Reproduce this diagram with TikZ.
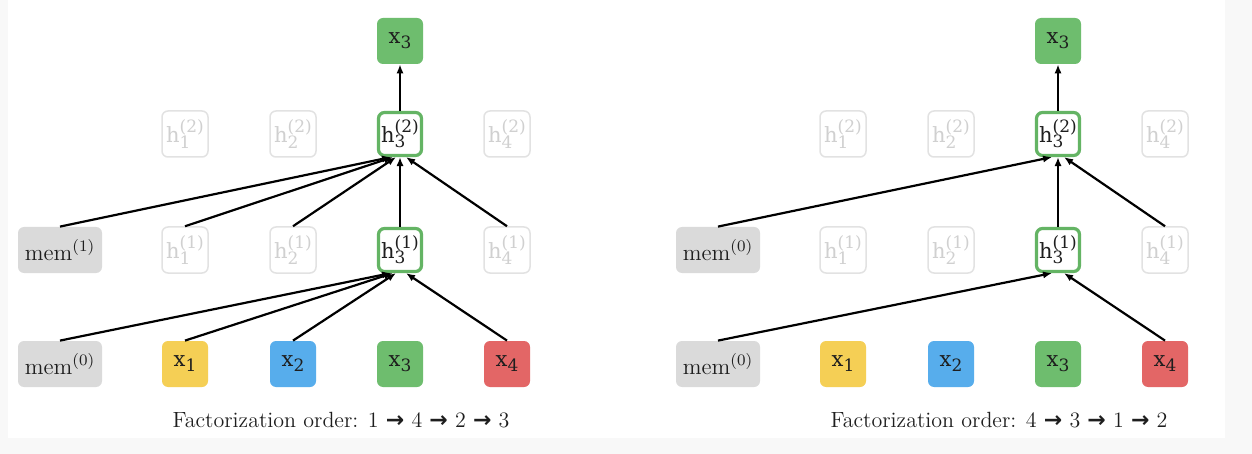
\documentclass[tikz,border=0pt]{standalone}
\usepackage{fontspec}
\usetikzlibrary{arrows.meta}
\newfontfamily\boxfont{DejaVu Serif}
\newfontfamily\arrowfont{DejaVu Sans}
\definecolor{bgray}{RGB}{248,248,248}
\definecolor{memgray}{RGB}{218,218,218}
\definecolor{xyellow}{RGB}{245,207,85}
\definecolor{xblue}{RGB}{87,173,236}
\definecolor{xgreen}{RGB}{110,189,110}
\definecolor{xred}{RGB}{227,102,102}
\definecolor{hgreen}{RGB}{100,180,100}
\definecolor{fadeline}{RGB}{226,226,226}
\definecolor{fadetext}{RGB}{208,208,208}
\definecolor{txt}{RGB}{30,30,30}
\newcommand{\xlab}[1]{{\boxfont x\raisebox{-0.45ex}{\fontsize{8.5}{9}\selectfont #1}}}
\newcommand{\hlab}[2]{{\boxfont h\rlap{\raisebox{-0.5ex}{\fontsize{8.5}{9}\selectfont #2}}\raisebox{0.9ex}{\fontsize{8.5}{9}\selectfont (#1)}}}
\newcommand{\ordarrow}{{\arrowfont\bfseries →}}
\begin{document}
\begin{tikzpicture}[x=0.5pt,y=-0.5pt,
  box/.style={rounded corners=3pt, minimum width=23pt, minimum height=23pt, inner sep=0pt, text=txt, font=\fontsize{10.5}{12}\selectfont},
  membox/.style={box, fill=memgray, minimum width=42pt, font=\fontsize{11.5}{13}\selectfont},
  yelbox/.style={box, fill=xyellow},
  blubox/.style={box, fill=xblue},
  grnbox/.style={box, fill=xgreen},
  redbox/.style={box, fill=xred},
  fadebox/.style={box, fill=white, draw=fadeline, line width=0.75pt, text=fadetext},
  hbox/.style={box, fill=white, draw=hgreen, line width=1.6pt, minimum width=21.5pt, minimum height=21.5pt},
  conn/.style={line width=1.1pt, draw=black, -{Latex[length=4.5pt,width=3.6pt]}},
  caption/.style={font=\fontsize{11}{13}\selectfont, text=txt}
]
\fill[bgray] (0,0) rectangle (1252,454);
\fill[white] (8,0) rectangle (1225,438);
\useasboundingbox (0,0) rectangle (1252,454);

% ---------------- left panel ----------------
\node[grnbox] (Ltop) at (400,41) {\xlab{3}};
\node[fadebox] (Lh12) at (185,134) {\hlab{2}{1}};
\node[fadebox] (Lh22) at (293,134) {\hlab{2}{2}};
\node[hbox]    (Lh32) at (400,134) {\hlab{2}{3}};
\node[fadebox] (Lh42) at (507,134) {\hlab{2}{4}};
\node[membox]  (Lmem1) at (60,250) {mem$^{(1)}$};
\node[fadebox] (Lh11) at (185,250) {\hlab{1}{1}};
\node[fadebox] (Lh21) at (293,250) {\hlab{1}{2}};
\node[hbox]    (Lh31) at (400,250) {\hlab{1}{3}};
\node[fadebox] (Lh41) at (507,250) {\hlab{1}{4}};
\node[membox]  (Lmem0) at (60,364) {mem$^{(0)}$};
\node[yelbox]  (Lx1) at (185,364) {\xlab{1}};
\node[blubox]  (Lx2) at (293,364) {\xlab{2}};
\node[grnbox]  (Lx3) at (400,364) {\xlab{3}};
\node[redbox]  (Lx4) at (507,364) {\xlab{4}};
\node[caption] (Lcap) at (341,420) {Factorization order: 1 \ordarrow\ 4 \ordarrow\ 2 \ordarrow\ 3};

\draw[conn] (Lmem0.north) -- ([xshift=-4.5pt]Lh31.south);
\draw[conn] (Lx1.north) -- ([xshift=-3.5pt]Lh31.south);
\draw[conn] (Lx2.north) -- ([xshift=-2pt]Lh31.south);
\draw[conn] (Lx4.north) -- ([xshift=3pt]Lh31.south);
\draw[conn] (Lmem1.north) -- ([xshift=-4.5pt]Lh32.south);
\draw[conn] (Lh11.north) -- ([xshift=-3.5pt]Lh32.south);
\draw[conn] (Lh21.north) -- ([xshift=-2pt]Lh32.south);
\draw[conn] (Lh31.north) -- (Lh32.south);
\draw[conn] (Lh41.north) -- ([xshift=3pt]Lh32.south);
\draw[conn] (Lh32.north) -- (Ltop.south);

% ---------------- right panel ----------------
\node[grnbox] (Rtop) at (1058,41) {\xlab{3}};
\node[fadebox] (Rh12) at (843,134) {\hlab{2}{1}};
\node[fadebox] (Rh22) at (951,134) {\hlab{2}{2}};
\node[hbox]    (Rh32) at (1058,134) {\hlab{2}{3}};
\node[fadebox] (Rh42) at (1165,134) {\hlab{2}{4}};
\node[membox]  (Rmem1) at (718,250) {mem$^{(0)}$};
\node[fadebox] (Rh11) at (843,250) {\hlab{1}{1}};
\node[fadebox] (Rh21) at (951,250) {\hlab{1}{2}};
\node[hbox]    (Rh31) at (1058,250) {\hlab{1}{3}};
\node[fadebox] (Rh41) at (1165,250) {\hlab{1}{4}};
\node[membox]  (Rmem0) at (718,364) {mem$^{(0)}$};
\node[yelbox]  (Rx1) at (843,364) {\xlab{1}};
\node[blubox]  (Rx2) at (951,364) {\xlab{2}};
\node[grnbox]  (Rx3) at (1058,364) {\xlab{3}};
\node[redbox]  (Rx4) at (1165,364) {\xlab{4}};
\node[caption] (Rcap) at (999,420) {Factorization order: 4 \ordarrow\ 3 \ordarrow\ 1 \ordarrow\ 2};

\draw[conn] (Rmem0.north) -- ([xshift=-3pt]Rh31.south);
\draw[conn] (Rx4.north) -- ([xshift=3pt]Rh31.south);
\draw[conn] (Rmem1.north) -- ([xshift=-3pt]Rh32.south);
\draw[conn] (Rh31.north) -- (Rh32.south);
\draw[conn] (Rh41.north) -- ([xshift=3pt]Rh32.south);
\draw[conn] (Rh32.north) -- (Rtop.south);
\end{tikzpicture}
\end{document}
